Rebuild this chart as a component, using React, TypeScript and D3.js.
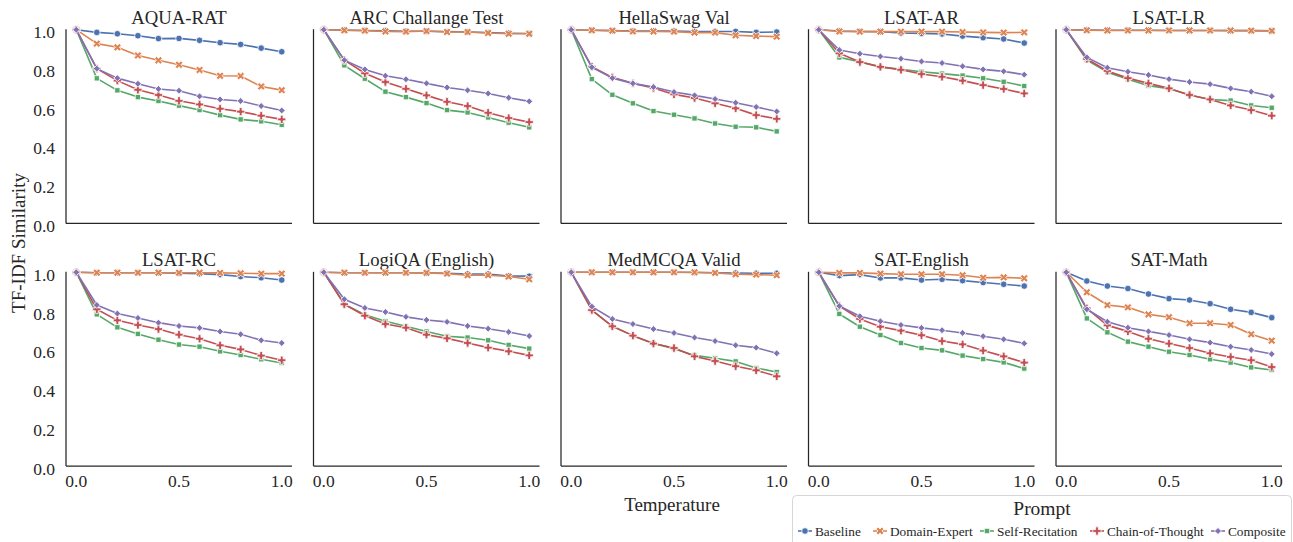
import React from 'react';
import * as d3 from 'd3';

// x values shared by every panel
const temperatures = [0, 0.1, 0.2, 0.3, 0.4, 0.5, 0.6, 0.7, 0.8, 0.9, 1.0];

const datasets = [
  'AQUA-RAT', 'ARC Challange Test', 'HellaSwag Val', 'LSAT-AR', 'LSAT-LR',
  'LSAT-RC', 'LogiQA (English)', 'MedMCQA Valid', 'SAT-English', 'SAT-Math',
];

const prompts = ['Baseline', 'Domain-Expert', 'Self-Recitation', 'Chain-of-Thought', 'Composite'];

const yTicks = [0, 0.2, 0.4, 0.6, 0.8, 1.0];
const xTicks = [0, 0.5, 1.0];

// one row per dataset, same order as `datasets`
const baseline = [
  [1.0, 0.986, 0.979, 0.969, 0.954, 0.955, 0.945, 0.933, 0.924, 0.905, 0.886],
  [1.0, 0.998, 0.996, 0.994, 0.992, 0.992, 0.99, 0.988, 0.985, 0.982, 0.98],
  [1.0, 0.997, 0.995, 0.993, 0.993, 0.993, 0.991, 0.991, 0.991, 0.986, 0.988],
  [1.0, 0.993, 0.991, 0.99, 0.983, 0.981, 0.978, 0.967, 0.959, 0.952, 0.931],
  [1.0, 0.998, 0.997, 0.997, 0.997, 0.996, 0.996, 0.996, 0.995, 0.995, 0.994],
  [1.0, 0.998, 0.998, 0.998, 0.998, 0.995, 0.993, 0.988, 0.978, 0.972, 0.96],
  [1.0, 0.998, 0.998, 0.998, 0.998, 0.997, 0.995, 0.991, 0.991, 0.981, 0.98],
  [1.0, 1.0, 1.0, 1.0, 1.0, 1.0, 0.999, 0.998, 0.996, 0.995, 0.995],
  [1.0, 0.983, 0.988, 0.971, 0.971, 0.96, 0.964, 0.957, 0.947, 0.938, 0.929],
  [1.0, 0.955, 0.929, 0.916, 0.888, 0.864, 0.857, 0.838, 0.809, 0.793, 0.766],
];

const domainExpert = [
  [1.0, 0.928, 0.909, 0.867, 0.842, 0.819, 0.792, 0.762, 0.761, 0.707, 0.688],
  [1.0, 0.997, 0.995, 0.991, 0.99, 0.993, 0.988, 0.988, 0.983, 0.979, 0.979],
  [1.0, 0.997, 0.995, 0.991, 0.991, 0.99, 0.985, 0.985, 0.971, 0.967, 0.964],
  [1.0, 0.991, 0.99, 0.99, 0.99, 0.99, 0.99, 0.988, 0.986, 0.985, 0.986],
  [1.0, 0.997, 0.996, 0.996, 0.996, 0.996, 0.996, 0.996, 0.996, 0.995, 0.994],
  [1.0, 0.998, 0.998, 0.998, 0.998, 0.998, 0.998, 0.997, 0.995, 0.993, 0.993],
  [1.0, 0.998, 0.998, 0.998, 0.998, 0.997, 0.993, 0.985, 0.985, 0.978, 0.964],
  [1.0, 1.0, 1.0, 1.0, 1.0, 1.0, 1.0, 0.997, 0.99, 0.988, 0.985],
  [1.0, 0.997, 0.997, 0.993, 0.99, 0.99, 0.99, 0.985, 0.972, 0.974, 0.969],
  [1.0, 0.897, 0.831, 0.819, 0.783, 0.768, 0.737, 0.737, 0.728, 0.68, 0.647],
];

const selfRecitation = [
  [1.0, 0.749, 0.687, 0.652, 0.632, 0.608, 0.585, 0.559, 0.537, 0.527, 0.509],
  [1.0, 0.816, 0.747, 0.68, 0.652, 0.621, 0.585, 0.573, 0.547, 0.52, 0.496],
  [1.0, 0.745, 0.664, 0.62, 0.58, 0.561, 0.542, 0.516, 0.499, 0.496, 0.475],
  [1.0, 0.857, 0.835, 0.808, 0.795, 0.783, 0.773, 0.763, 0.749, 0.731, 0.709],
  [1.0, 0.843, 0.781, 0.744, 0.711, 0.696, 0.663, 0.64, 0.634, 0.609, 0.597],
  [1.0, 0.783, 0.716, 0.682, 0.652, 0.627, 0.616, 0.592, 0.573, 0.551, 0.532],
  [1.0, 0.835, 0.781, 0.747, 0.721, 0.694, 0.67, 0.663, 0.649, 0.625, 0.606],
  [1.0, 0.805, 0.721, 0.673, 0.633, 0.606, 0.571, 0.556, 0.54, 0.506, 0.485],
  [1.0, 0.785, 0.719, 0.676, 0.635, 0.609, 0.597, 0.57, 0.552, 0.535, 0.503],
  [1.0, 0.762, 0.69, 0.642, 0.616, 0.59, 0.573, 0.551, 0.534, 0.509, 0.496],
];

const chainOfThought = [
  [1.0, 0.799, 0.737, 0.69, 0.663, 0.633, 0.614, 0.592, 0.577, 0.556, 0.537],
  [1.0, 0.843, 0.775, 0.73, 0.695, 0.661, 0.628, 0.606, 0.571, 0.544, 0.523],
  [1.0, 0.809, 0.754, 0.723, 0.699, 0.666, 0.647, 0.62, 0.594, 0.559, 0.54],
  [1.0, 0.878, 0.833, 0.808, 0.793, 0.771, 0.757, 0.737, 0.714, 0.694, 0.671],
  [1.0, 0.849, 0.787, 0.75, 0.723, 0.697, 0.663, 0.64, 0.609, 0.585, 0.556],
  [1.0, 0.809, 0.752, 0.728, 0.707, 0.678, 0.657, 0.623, 0.602, 0.57, 0.546],
  [1.0, 0.835, 0.776, 0.733, 0.714, 0.678, 0.659, 0.635, 0.611, 0.592, 0.571],
  [1.0, 0.805, 0.721, 0.673, 0.632, 0.609, 0.566, 0.542, 0.515, 0.494, 0.463],
  [1.0, 0.826, 0.759, 0.719, 0.699, 0.675, 0.645, 0.628, 0.596, 0.566, 0.534],
  [1.0, 0.814, 0.726, 0.695, 0.657, 0.632, 0.609, 0.582, 0.563, 0.546, 0.511],
];

const composite = [
  [1.0, 0.799, 0.75, 0.721, 0.694, 0.685, 0.656, 0.64, 0.632, 0.606, 0.583],
  [1.0, 0.843, 0.795, 0.762, 0.744, 0.723, 0.702, 0.687, 0.671, 0.649, 0.63],
  [1.0, 0.806, 0.75, 0.723, 0.704, 0.678, 0.661, 0.642, 0.623, 0.601, 0.578],
  [1.0, 0.895, 0.876, 0.862, 0.85, 0.836, 0.828, 0.811, 0.795, 0.785, 0.768],
  [1.0, 0.857, 0.804, 0.783, 0.766, 0.745, 0.73, 0.719, 0.697, 0.68, 0.656],
  [1.0, 0.831, 0.787, 0.764, 0.74, 0.723, 0.713, 0.694, 0.68, 0.649, 0.635],
  [1.0, 0.861, 0.816, 0.795, 0.77, 0.754, 0.744, 0.723, 0.709, 0.692, 0.671],
  [1.0, 0.823, 0.759, 0.733, 0.707, 0.687, 0.663, 0.645, 0.623, 0.611, 0.582],
  [1.0, 0.826, 0.773, 0.747, 0.728, 0.713, 0.701, 0.687, 0.67, 0.654, 0.633],
  [1.0, 0.809, 0.745, 0.714, 0.695, 0.676, 0.654, 0.637, 0.616, 0.599, 0.578],
];

const seriesValues = [baseline, domainExpert, selfRecitation, chainOfThought, composite];

// seaborn "deep" palette
const colors = ['#4c72b0', '#dd8452', '#55a868', '#c44e52', '#8172b3'];

const FONT = '"Liberation Serif", "Times New Roman", serif';
const INK = '#262626';

// marker shapes like seaborn's defaults: o, X, square, P, diamond
const markerPaths = [
  { d: d3.symbol(d3.symbolCircle, 34)() as string, rotate: 0 },
  { d: d3.symbol(d3.symbolCross, 38)() as string, rotate: 45 },
  { d: d3.symbol(d3.symbolSquare, 28)() as string, rotate: 0 },
  { d: d3.symbol(d3.symbolCross, 38)() as string, rotate: 0 },
  { d: d3.symbol(d3.symbolSquare, 24)() as string, rotate: 45 },
];

const Marker = ({ i, x, y }: { i: number; x: number; y: number }) => (
  <path
    d={markerPaths[i].d}
    transform={`translate(${x},${y}) rotate(${markerPaths[i].rotate})`}
    fill={colors[i]}
    stroke="#fff"
    strokeWidth={0.8}
  />
);

// panel geometry
const panelLeft0 = 66;
const panelStep = 247.5;
const panelWidth = 226;
const rowTop = [29.7, 272.3];
const panelHeight = 193.7;

function Panel({ idx }: { idx: number }) {
  const col = idx % 5;
  const row = Math.floor(idx / 5);
  const left = panelLeft0 + col * panelStep;
  const top = rowTop[row];
  const bottom = top + panelHeight;

  const x = d3.scaleLinear().domain([-0.05, 1.05]).range([left, left + panelWidth]);
  const y = d3.scaleLinear().domain([0, 1]).range([bottom, top]);
  const line = d3.line<number>().x((_, i) => x(temperatures[i])).y(v => y(v));

  return (
    <g>
      <text x={left + panelWidth / 2} y={top - 6} textAnchor="middle"
        fontFamily={FONT} fontSize={18.7} fill={INK}>{datasets[idx]}</text>
      <line x1={left} x2={left + panelWidth} y1={bottom} y2={bottom} stroke={INK} strokeWidth={1.25} />
      <line x1={left} x2={left} y1={top - 0.5} y2={bottom} stroke={INK} strokeWidth={1.25} />
      {col === 0 && yTicks.map(t => (
        <text key={t} x={left - 11} y={y(t) + 8.5} textAnchor="end"
          fontFamily={FONT} fontSize={17.5} fill={INK}>{t.toFixed(1)}</text>
      ))}
      {row === 1 && xTicks.map(t => (
        <text key={t} x={x(t)} y={bottom + 21} textAnchor="middle"
          fontFamily={FONT} fontSize={17.5} fill={INK}>{t.toFixed(1)}</text>
      ))}
      {seriesValues.map((s, si) => (
        <g key={si}>
          <path d={line(s[idx]) as string} fill="none" stroke={colors[si]} strokeWidth={1.6}
            strokeLinejoin="round" />
          {s[idx].map((v, i) => (
            <Marker key={i} i={si} x={x(temperatures[i])} y={y(v)} />
          ))}
        </g>
      ))}
    </g>
  );
}

export default function App() {
  const legendX = [805, 880, 987, 1097, 1218];
  return (
    <svg width={1293} height={542} style={{ position: 'absolute', left: 0, top: 0, background: '#fff' }}>
      {datasets.map((_, i) => <Panel key={i} idx={i} />)}

      <text transform="translate(25,243) rotate(-90)" textAnchor="middle"
        fontFamily={FONT} fontSize={19} fill={INK}>TF-IDF Similarity</text>
      <text x={672} y={511} textAnchor="middle" fontFamily={FONT} fontSize={19} fill={INK}>Temperature</text>

      <g>
        <rect x={792.5} y={495.5} width={499} height={56} rx={4} fill="#fff" stroke="#d6d6d6" strokeWidth={1} />
        <text x={1042} y={515} textAnchor="middle" fontFamily={FONT} fontSize={19.5} fill={INK}>Prompt</text>
        {prompts.map((p, i) => (
          <g key={p}>
            <line x1={legendX[i] - 7} x2={legendX[i] + 7} y1={531} y2={531} stroke={colors[i]} strokeWidth={1.6} />
            <Marker i={i} x={legendX[i]} y={531} />
            <text x={legendX[i] + 10} y={535.5} fontFamily={FONT} fontSize={13.3} fill={INK}>{p}</text>
          </g>
        ))}
      </g>
    </svg>
  );
}
